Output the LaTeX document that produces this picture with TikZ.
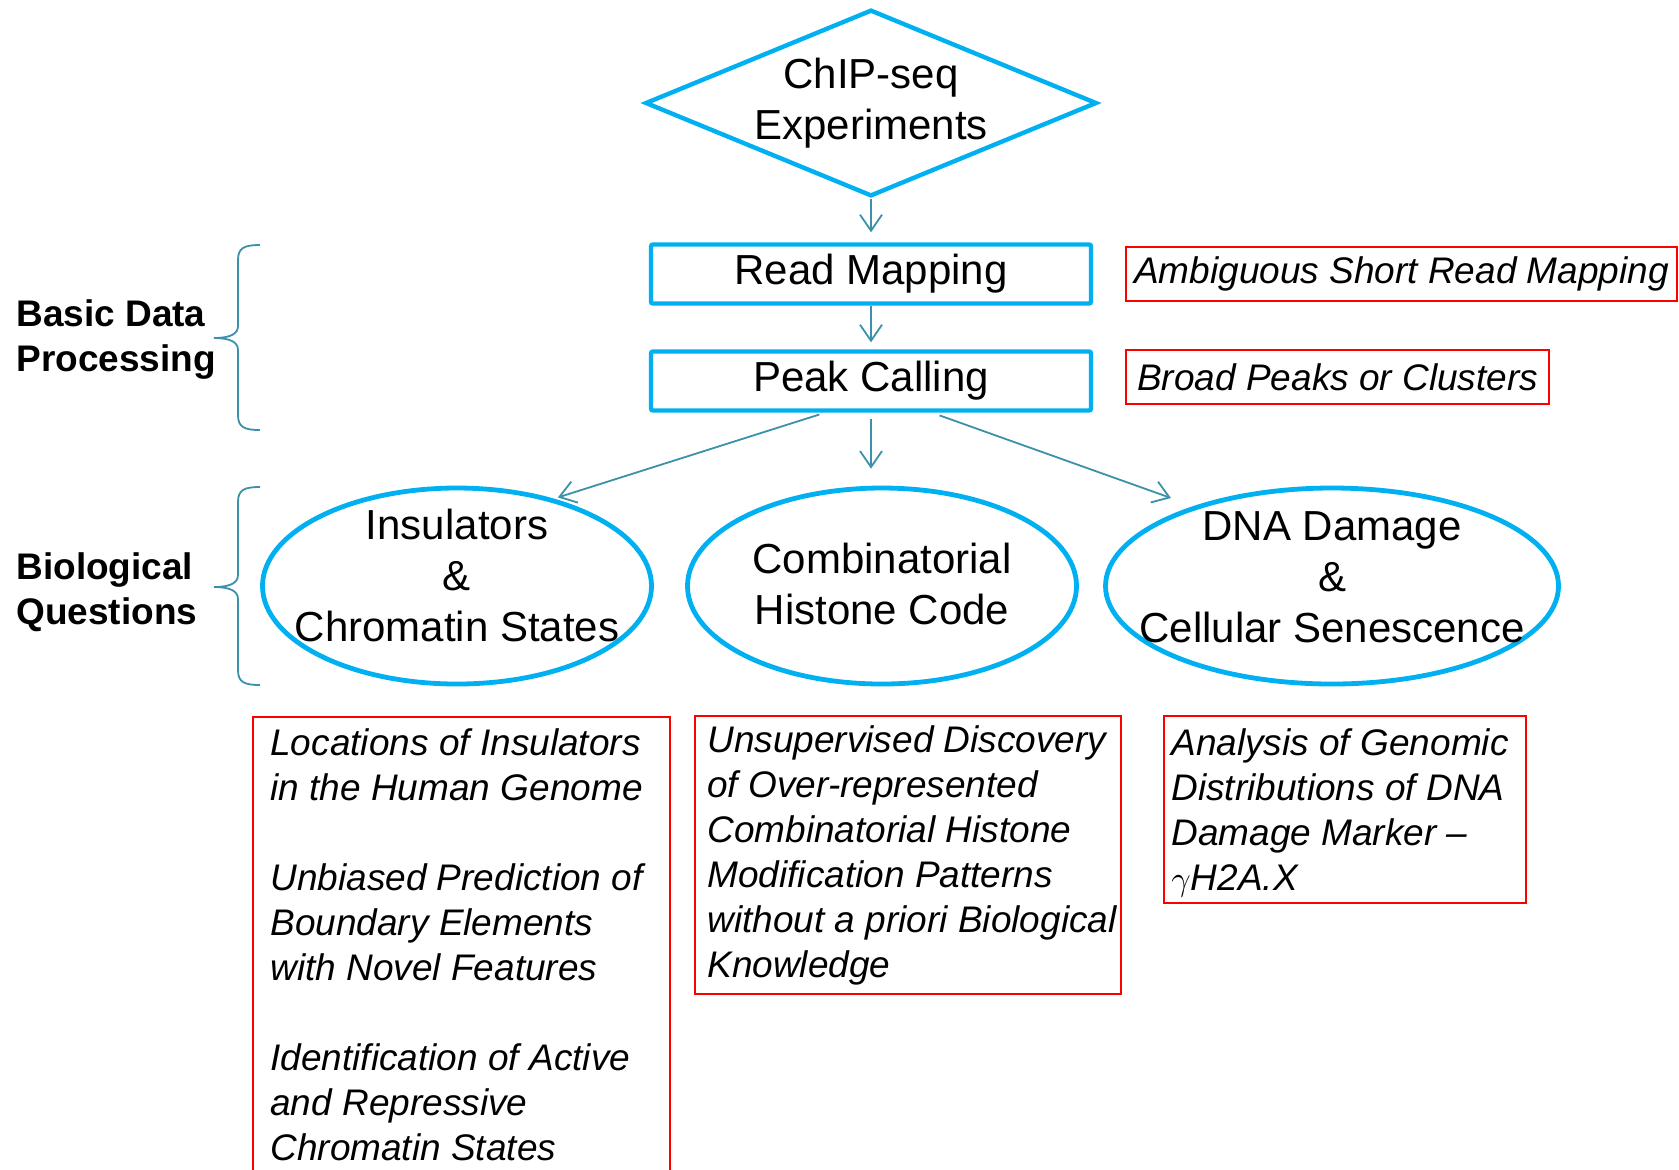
\documentclass[tikz,border=0pt]{standalone}
\usepackage{fontspec}
\setmainfont{Liberation Sans}
\usepackage{tikz}
\usetikzlibrary{arrows.meta,positioning,shapes.geometric}
\definecolor{flowblue}{RGB}{0,176,240}
\definecolor{flowteal}{RGB}{60,145,170}
\tikzset{
  flow-start/.style={diamond, draw=flowblue, line width=2.2pt, aspect=2.42, inner sep=0pt,
    minimum width=225pt, minimum height=92pt, align=center, font=\fontsize{21}{25.5}\selectfont},
  flow-step/.style={rectangle, draw=flowblue, line width=2.2pt, rounded corners=1pt,
    minimum width=220pt, minimum height=29.5pt, font=\fontsize{21}{25.5}\selectfont},
  flow-question/.style={ellipse, draw=flowblue, line width=2.4pt, minimum height=98pt, inner sep=0pt},
  flow-qtext/.style={align=center, inner sep=0pt, font=\fontsize{21}{25.5}\selectfont},
  flow-arrow/.style={draw=flowteal, line width=0.9pt, -{Straight Barb[length=8pt,width=11pt]}},
  flow-brace/.style={draw=flowteal, line width=0.9pt},
  side-label/.style={anchor=west, align=left, inner sep=0pt, font=\fontsize{18.5}{22.5}\selectfont\bfseries},
  note-box/.style={draw=red, line width=1.2pt, anchor=west, inner xsep=5.5pt, minimum height=27pt,
    font=\fontsize{18.5}{22.5}\selectfont\itshape},
  find-box/.style={draw=red, line width=1.2pt, anchor=north west, inner sep=0pt},
  find-text/.style={anchor=north west, align=left, inner sep=0pt, font=\fontsize{18.5}{22.5}\selectfont\itshape}
}
% brace at x=238..260: top end, tip, bottom end
\newcommand{\sidebrace}[3]{%
  \draw[flow-brace] (260,#1) .. controls (244,#1) and (238,#1+3) .. (238,#1+15)
    -- (238,#2-12) .. controls (238,#2-4) and (230,#2) .. (214,#2)
    .. controls (230,#2) and (238,#2+4) .. (238,#2+12)
    -- (238,#3-15) .. controls (238,#3-3) and (244,#3) .. (260,#3);}

\begin{document}
\begin{tikzpicture}[x=0.5pt, y=-0.5pt]
  \useasboundingbox (0,0) rectangle (1679,1169);

  % Pipeline
  \node[flow-start] (exp) at (871,103) {ChIP-seq\\Experiments};
  \node[flow-step] (rm) at (871,274) {Read Mapping};
  \node[flow-step] (pc) at (871,381) {Peak Calling};
  \draw[flow-arrow, shorten >=5pt] (exp.south) -- (rm.north);
  \draw[flow-arrow, shorten >=3.5pt] (rm.south) -- (pc.north);

  % Issues of the basic steps
  \node[note-box, inner xsep=4pt] (amb) at (1125,274) {Ambiguous Short Read Mapping};
  \node[note-box, minimum width=208pt] (brd) at (1125,377) {Broad Peaks or Clusters};

  % Side labels
  \node[side-label] (bdp) at (16,340) {Basic Data\\Processing};
  \node[side-label] (bq) at (16,592) {Biological\\Questions};
  \sidebrace{245}{338}{430}
  \sidebrace{487}{587}{685}

  % Biological questions
  \foreach \name/\x/\w in {ins/457/194.5pt, comb/882/194.5pt, dna/1332/226.5pt} {
    \node[flow-question, minimum width=\w] (\name) at (\x,586) {};
  }
  \node[flow-qtext] (ins-text) at ([yshift=5.5pt]ins.center) {Insulators\\\&\\Chromatin States};
  \node[flow-qtext] (comb-text) at ([yshift=1pt]comb.center) {Combinatorial\\Histone Code};
  \node[flow-qtext] (dna-text) at ([yshift=4.5pt]dna.center) {DNA Damage\\\&\\Cellular Senescence};
  \draw[flow-arrow, shorten <=3pt, shorten >=2pt] ([xshift=-23pt]pc.south) -- (ins.42);
  \draw[flow-arrow, shorten <=3pt, shorten >=8.5pt] (pc.south) -- (pc.south |- comb.north);
  \draw[flow-arrow, shorten <=4pt, shorten >=12pt] ([xshift=30.5pt]pc.south) -- (dna.150);

  % Findings
  \node[find-box, minimum width=208.5pt, minimum height=240pt] (ins-box) at (252,716) {};
  \node[find-text] (ins-find) at ([xshift=9pt, yshift=-6pt]ins-box.north west)
    {Locations of Insulators\\in the Human Genome\\[22.5pt]Unbiased Prediction of\\Boundary Elements\\with Novel Features\\[22.5pt]Identification of Active\\and Repressive\\Chromatin States};
  \node[find-box, minimum width=213pt, minimum height=139pt] (comb-box) at (694,715) {};
  \node[find-text] (comb-find) at ([xshift=6.5pt, yshift=-5pt]comb-box.north west)
    {Unsupervised Discovery\\of Over-represented\\Combinatorial Histone\\Modification Patterns\\without a priori Biological\\Knowledge};
  \node[find-box, minimum width=181pt, minimum height=93.5pt] (dna-box) at (1163,715) {};
  \node[find-text] (dna-find) at ([xshift=4pt, yshift=-6.5pt]dna-box.north west)
    {Analysis of Genomic\\Distributions of DNA\\Damage Marker --\\$\gamma$H2A.X};
\end{tikzpicture}
\end{document}
